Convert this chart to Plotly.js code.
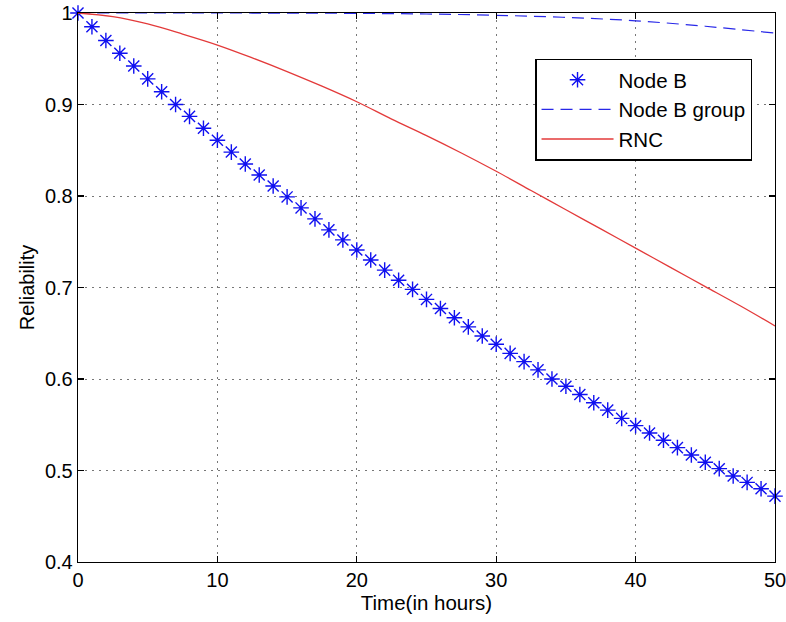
<!DOCTYPE html>
<html>
<head>
<meta charset="utf-8">
<script src="https://cdn.plot.ly/plotly-3.0.1.min.js"></script>
<style>html,body{margin:0;padding:0;background:#fff;}#chart{width:786px;height:622px;}</style>
</head>
<body>
<div id="chart"></div>
<script>
// Node B: hourly samples 0..50
var nodeBTime = [0,1,2,3,4,5,6,7,8,9,10,11,12,13,14,15,16,17,18,19,20,21,22,23,24,25,26,27,28,29,30,31,32,33,34,35,36,37,38,39,40,41,42,43,44,45,46,47,48,49,50];
var nodeBRel = [1.000,0.985,0.970,0.956,0.942,0.928,0.914,0.900,0.887,0.874,0.861,0.848,0.835,0.823,0.811,0.799,0.787,0.775,0.763,0.752,0.741,0.730,0.719,0.708,0.698,0.687,0.677,0.667,0.657,0.647,0.638,0.628,0.619,0.610,0.600,0.592,0.583,0.574,0.566,0.557,0.549,0.541,0.533,0.525,0.517,0.509,0.502,0.494,0.487,0.480,0.472];

// Node B group
var groupTime = [0,5,10,15,20,25,30,35,40,45,50];
var groupRel = [1.0000,1.0000,1.0000,0.9999,0.9996,0.9989,0.9975,0.9952,0.9915,0.9855,0.9780];

// RNC
var rncTime = [0,2.5,5,7.5,10,12.5,15,17.5,20,22.5,25,27.5,30,32.5,35,37.5,40,42.5,45,47.5,50];
var rncRel = [1.000,0.996,0.988,0.977,0.965,0.951,0.936,0.920,0.903,0.884,0.866,0.847,0.827,0.806,0.785,0.764,0.743,0.722,0.701,0.680,0.658];

var xTicks = [0,10,20,30,40,50];
var yTicks = [0.4,0.5,0.6,0.7,0.8,0.9,1];
var yTickText = ['0.4','0.5','0.6','0.7','0.8','0.9','1'];

var FONT = 'Liberation Sans, Arial, Helvetica, sans-serif';
var FS = 20;
var FL = 20.5;

var traces = [
  {x: nodeBTime, y: nodeBRel, name: 'Node B', type: 'scatter', mode: 'markers', legendgroup: 'a',
   cliponaxis: false,
   marker: {symbol: 'asterisk-open', size: 13, color: '#1010f0', line: {color: '#1010f0', width: 1.4}}},
  {x: groupTime, y: groupRel, name: 'Node B group', type: 'scatter', mode: 'lines', legendgroup: 'b',
   line: {color: '#2828e8', width: 1.2, dash: '12px,7px', shape: 'spline'}},
  {x: rncTime, y: rncRel, name: 'RNC', type: 'scatter', mode: 'lines', legendgroup: 'c',
   line: {color: '#e33a3a', width: 1.3, shape: 'spline'}}
];

var axisCommon = {
  showline: true, linecolor: '#000', linewidth: 1.3, mirror: 'ticks',
  ticks: 'inside', ticklen: 6, tickwidth: 1.3, tickcolor: '#000',
  showgrid: true, gridcolor: '#777', gridwidth: 1, griddash: '2px,5px',
  zeroline: false, ticklabeloverflow: 'allow',
  tickfont: {family: FONT, size: FS, color: '#000'}
};

var layout = {
  width: 786, height: 622,
  margin: {l: 78, r: 11, t: 13, b: 60},
  paper_bgcolor: '#fff', plot_bgcolor: '#fff',
  showlegend: true,
  xaxis: Object.assign({}, axisCommon, {
    range: [0, 50], tickvals: xTicks, ticktext: xTicks.map(String),
    title: {text: 'Time(in hours)', font: {family: FONT, size: FL, color: '#000'}, standoff: 3}
  }),
  yaxis: Object.assign({}, axisCommon, {
    range: [0.4, 1], tickvals: yTicks, ticktext: yTickText,
    title: {text: 'Reliability', font: {family: FONT, size: FS, color: '#000'}, standoff: 5}
  }),
  legend: {
    x: 0.656, y: 0.917, xanchor: 'left', yanchor: 'top',
    bgcolor: '#fff', bordercolor: '#000', borderwidth: 1.3,
    font: {family: FONT, size: FL, color: '#000'},
    itemwidth: 72, tracegroupgap: 0, traceorder: 'grouped'
  }
};

Plotly.newPlot('chart', traces, layout, {displayModeBar: false, staticPlot: true});
</script>
</body>
</html>
